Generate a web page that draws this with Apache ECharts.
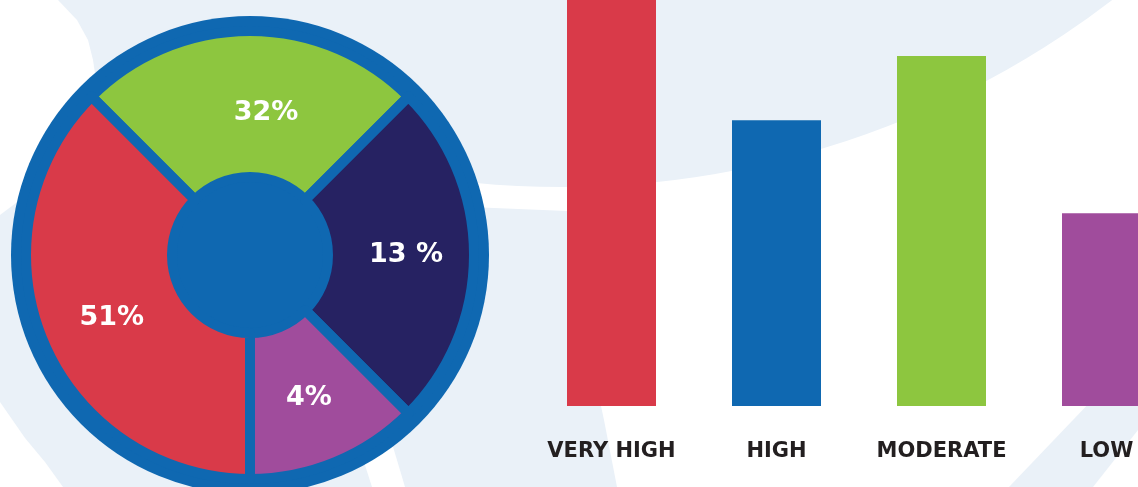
<!DOCTYPE html>
<html>
<head>
<meta charset="utf-8">
<script src="https://cdn.jsdelivr.net/npm/echarts@6/dist/echarts.min.js"></script>
<style>
  html, body { margin: 0; padding: 0; background: #ffffff; }
  #chart { width: 1138px; height: 487px; }
</style>
</head>
<body>
<div id="chart"></div>
<script>
// ---- data ----
const sliceNames   = ['Moderate', 'Low', 'Lowest', 'Very high'];
const sliceShares  = [25, 25, 12.5, 37.5];          // drawn slice sizes (angular share)
const sliceLabels  = ['32%', '13 %', '4%', '51%'];  // printed labels
const sliceColors  = ['#8dc63f', '#262262', '#a04c9c', '#d93a49'];

const barCategories = ['VERY HIGH', 'HIGH', 'MODERATE', 'LOW'];
const barValues     = [104, 70.4, 86.2, 47.5];
const barColors     = ['#d93a49', '#0f68b1', '#8dc63f', '#a04c9c'];

const RING_BLUE = '#0f68b1';
const BG_BLUE = '#eaf1f8';

const chart = echarts.init(document.getElementById('chart'), null, { renderer: 'canvas' });

const option = {
  backgroundColor: '#ffffff',
  animation: false,
  graphic: [
    { type: 'circle', z: 0, silent: true, shape: { cx: 562, cy: -716, r: 903 }, style: { fill: BG_BLUE } },
    { type: 'polygon', z: 0, silent: true, shape: { points: [[0,0],[470,0],[470,207],[567,211],[590,300],[601,406],[604,420],[617,487],[0,487]] }, style: { fill: BG_BLUE } },
    { type: 'polygon', z: 0, silent: true, shape: { points: [[1009,487],[1073,420],[1138,352],[1138,430],[1093,487]] }, style: { fill: BG_BLUE } },
    { type: 'polygon', z: 1, silent: true, shape: { points: [[0,0],[58,0],[77,20],[88,40],[93,60],[96,80],[60,150],[20,200],[0,215]] }, style: { fill: '#ffffff' } },
    { type: 'polygon', z: 1, silent: true, shape: { points: [[372,487],[357,440],[391,440],[405,487]] }, style: { fill: '#ffffff' } },
    { type: 'polygon', z: 1, silent: true, shape: { points: [[0,402],[25,438],[45,462],[63,487],[0,487]] }, style: { fill: '#ffffff' } }
  ],
  grid: { left: 611.5, right: 31.5, top: 0, bottom: 81, containLabel: false },
  xAxis: {
    type: 'category',
    data: barCategories,
    boundaryGap: false,
    axisLine: { show: false },
    axisTick: { show: false },
    splitLine: { show: false },
    axisLabel: {
      interval: 0,
      margin: 35,
      color: '#231f20',
      fontFamily: 'DejaVu Sans',
      fontWeight: 'bold',
      fontSize: 21
    }
  },
  yAxis: { type: 'value', min: 0, max: 100, show: false, splitLine: { show: false } },
  series: [
    {
      type: 'pie',
      silent: true,
      z: 2,
      center: [250, 255],
      radius: [0, 239],
      label: { show: false },
      labelLine: { show: false },
      itemStyle: { color: RING_BLUE },
      data: [{ value: 1, name: 'ring' }]
    },
    {
      type: 'pie',
      silent: true,
      z: 3,
      center: [250, 255],
      radius: [78, 224],
      startAngle: 135,
      clockwise: true,
      avoidLabelOverlap: false,
      itemStyle: { borderColor: RING_BLUE, borderWidth: 10 },
      label: {
        show: true,
        position: 'inside',
        color: '#ffffff',
        fontFamily: 'DejaVu Sans',
        fontWeight: 'bold',
        fontSize: 27,
        formatter: p => sliceLabels[p.dataIndex]
      },
      labelLine: { show: false },
      data: sliceShares.map((v, i) => ({
        value: v,
        name: sliceNames[i],
        itemStyle: { color: sliceColors[i] },
        label: i === 0 ? { offset: [16, 12] } : (i === 3 ? { offset: [4, 4] } : (i === 1 ? { offset: [2, 0] } : { offset: [0, 1] }))
      }))
    },
    {
      type: 'bar',
      silent: true,
      z: 3,
      clip: false,
      barWidth: 89,
      data: barValues.map((v, i) => ({ value: v, itemStyle: { color: barColors[i] } }))
    }
  ]
};

chart.setOption(option);
</script>
</body>
</html>
